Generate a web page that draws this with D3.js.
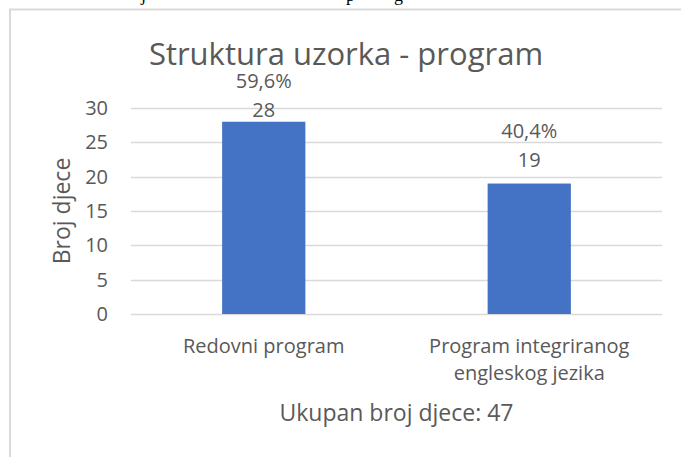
<!DOCTYPE html>
<html><head><meta charset="utf-8">
<script src="https://cdn.jsdelivr.net/npm/d3@7"></script>
<style>html,body{margin:0;padding:0;background:#fff;}svg{display:block;}</style>
</head><body>
<script>
const categories = [["Redovni program"], ["Program integriranog", "engleskog jezika"]];
const values = [28, 19];
const percentLabels = ["59,6%", "40,4%"];
const yTicks = [0, 5, 10, 15, 20, 25, 30];
const titleText = "Struktura uzorka - program";
const yTitle = "Broj djece";
const xTitle = "Ukupan broj djece: 47";

const W = 681, H = 457;
const svg = d3.select("body").append("svg").attr("width", W).attr("height", H);
const font = "'Open Sans', 'Segoe UI', sans-serif";
const txt = "#595959";

// cut-off document text above the chart
[["j",141],["p",346],["g",394]].forEach(([c,x]) => {
  svg.append("text").attr("x", x).attr("y", 0.5).attr("font-family","'Liberation Serif', serif")
    .attr("font-size", 18).attr("fill", "#000").text(c);
});

// chart frame
svg.append("path").attr("d", `M10,${H} L10,9.5 L${W},9.5`).attr("fill","none")
  .attr("stroke","#d9d9d9").attr("stroke-width",2);

const plot = {left: 131, right: 662, top: 108, bottom: 314};
const x = d3.scaleBand().domain(d3.range(values.length)).range([plot.left, plot.right]).padding(0);
const y = d3.scaleLinear().domain([0, 30]).range([plot.bottom, plot.top]);
const barW = x.bandwidth() / 3.19;

// gridlines
svg.append("g").selectAll("line").data(yTicks).join("line")
  .attr("x1", plot.left).attr("x2", plot.right)
  .attr("y1", d => Math.round(y(d)) + 0.5).attr("y2", d => Math.round(y(d)) + 0.5)
  .attr("stroke", "#d9d9d9").attr("stroke-width", 1.5);

// y axis tick labels
const yAxis = d3.axisLeft(y).tickValues(yTicks).tickSize(0).tickPadding(0);
const ga = svg.append("g").attr("transform", `translate(108,0)`).call(yAxis);
ga.select(".domain").remove();
ga.selectAll("text").attr("font-family", font).attr("font-size", 20).attr("fill", txt);

// bars
svg.append("g").selectAll("rect").data(values).join("rect")
  .attr("x", (d,i) => x(i) + x.bandwidth()/2 - barW/2)
  .attr("width", barW)
  .attr("y", d => y(d)).attr("height", d => y(0) - y(d))
  .attr("fill", "#4472c4");

// data labels (two lines), clamped below title like Excel does
values.forEach((v, i) => {
  let base = y(v) - 17;
  if (base - 29 < 88) base = 88 + 29;
  const cx = x(i) + x.bandwidth()/2;
  svg.append("text").attr("x", cx).attr("y", base).attr("text-anchor","middle")
    .attr("font-family", font).attr("font-size", 20).attr("fill", txt).text(v);
  svg.append("text").attr("x", cx).attr("y", base - 29).attr("text-anchor","middle")
    .attr("font-family", font).attr("font-size", 20).attr("fill", txt).text(percentLabels[i]);
});

// category labels
categories.forEach((lines, i) => {
  const t = svg.append("text").attr("x", x(i) + x.bandwidth()/2).attr("y", 353)
    .attr("text-anchor","middle").attr("font-family", font).attr("font-size", 20).attr("fill", txt);
  lines.forEach((l, j) => t.append("tspan").attr("x", x(i) + x.bandwidth()/2).attr("dy", j ? 27 : 0).text(l));
});

// title
svg.append("text").attr("x", 346).attr("y", 65).attr("text-anchor","middle")
  .attr("font-family", font).attr("font-size", 31).attr("fill", txt).text(titleText);

// axis titles
svg.append("text").attr("transform", "translate(70,211) rotate(-90)").attr("text-anchor","middle")
  .attr("font-family", font).attr("font-size", 23).attr("fill", txt).text(yTitle);
svg.append("text").attr("x", (plot.left + plot.right)/2).attr("y", 421).attr("text-anchor","middle")
  .attr("font-family", font).attr("font-size", 23).attr("fill", txt).text(xTitle);
</script>
</body></html>
